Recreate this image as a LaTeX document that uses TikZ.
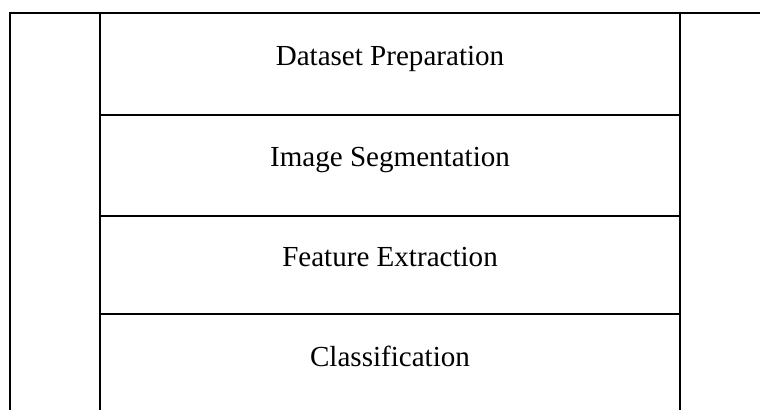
\documentclass[tikz,border=0pt]{standalone}
\usepackage{fontspec}
\setmainfont{Liberation Serif}
\begin{document}
\begin{tikzpicture}[x=0.75pt,y=-0.75pt,
  rule/.style={line width=1.5pt,line cap=rect},
  label/.style={anchor=base,font=\fontsize{21.8}{26}\selectfont,inner sep=0pt}]
\useasboundingbox (0,0) rectangle (760,410);
% frame lines
\draw[rule] (10,410) -- (10,13) -- (760,13);
\draw[rule] (100,13) -- (100,410);
\draw[rule] (680,13) -- (680,410);
\draw[rule] (100,115) -- (680,115);
\draw[rule] (100,216) -- (680,216);
\draw[rule] (100,314) -- (680,314);
% labels
\node[label] (s1) at (390,65) {Dataset Preparation};
\node[label] (s2) at (390,166) {Image Segmentation};
\node[label] (s3) at (390,266) {Feature Extraction};
\node[label] (s4) at (390,366) {Classification};
\end{tikzpicture}
\end{document}
